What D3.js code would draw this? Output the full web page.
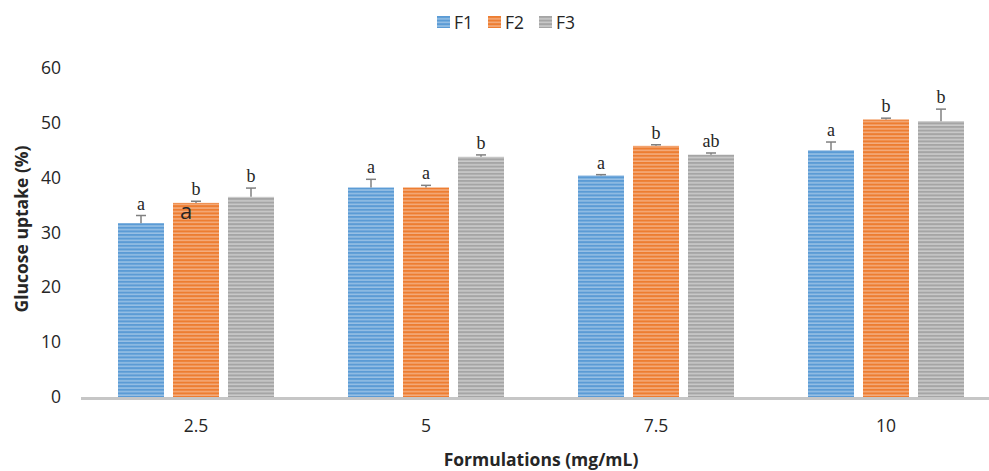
<!DOCTYPE html>
<html>
<head>
<meta charset="utf-8">
<script src="https://cdn.jsdelivr.net/npm/d3@7"></script>
<style>
  body { margin: 0; background: #fff; }
  svg { display: block; }
</style>
</head>
<body>
<div id="chart"></div>
<script>
"use strict";

// Chart values
var categories = ["2.5", "5", "7.5", "10"];
var seriesNames = ["F1", "F2", "F3"];
var f1Values = [31.7, 38.2, 40.4, 45.0];
var f2Values = [35.4, 38.2, 45.8, 50.6];
var f3Values = [36.5, 43.8, 44.2, 50.3];
var f1Errors = [1.4, 1.5, 0.15, 1.5];
var f2Errors = [0.3, 0.4, 0.2, 0.25];
var f3Errors = [1.6, 0.35, 0.3, 2.2];
var f1Letters = ["a", "a", "a", "a"];
var f2Letters = ["b", "a", "b", "b"];
var f3Letters = ["b", "b", "ab", "b"];
var yTicks = [0, 10, 20, 30, 40, 50, 60];

var colors = ["#5b9bd5", "#ed7d31", "#a5a5a5"];
var lightColors = ["#a9cbea", "#f6bb94", "#d6d6d6"];

var width = 989, height = 471;
var sans = "Open Sans, Liberation Sans, sans-serif";

var svg = d3.select("#chart")
  .append("svg")
  .attr("width", width)
  .attr("height", height);

// striped fills
var defs = svg.append("defs");
colors.forEach(function (c, i) {
  var p = defs.append("pattern")
    .attr("id", "stripe" + i)
    .attr("patternUnits", "userSpaceOnUse")
    .attr("width", 8)
    .attr("height", 3.6);
  p.append("rect").attr("width", 8).attr("height", 3.6).attr("fill", c);
  p.append("rect").attr("y", 2.2).attr("width", 8).attr("height", 1.2).attr("fill", lightColors[i]);
});

// scales
var x = d3.scaleBand()
  .domain(categories)
  .range([81, 1001])
  .paddingInner(0)
  .paddingOuter(0);

var barW = 46, barStep = 55;

var y = d3.scaleLinear()
  .domain([0, 60])
  .range([397, 68]);

// y tick labels
svg.append("g")
  .selectAll("text")
  .data(yTicks)
  .enter()
  .append("text")
  .attr("x", 61)
  .attr("y", function (d) { return y(d); })
  .attr("dy", "0.35em")
  .attr("text-anchor", "end")
  .attr("font-family", sans)
  .attr("font-size", 17.5)
  .attr("fill", "#262626")
  .text(function (d) { return d; });

// bars
var rows = [];
categories.forEach(function (cat, ci) {
  [f1Values, f2Values, f3Values].forEach(function (vals, si) {
    rows.push({
      cat: cat,
      s: si,
      v: vals[ci],
      e: [f1Errors, f2Errors, f3Errors][si][ci],
      l: [f1Letters, f2Letters, f3Letters][si][ci]
    });
  });
});

function barX(d) {
  return x(d.cat) + x.bandwidth() / 2 + (d.s - 1) * barStep - barW / 2;
}

svg.append("g")
  .selectAll("rect")
  .data(rows)
  .enter()
  .append("rect")
  .attr("x", barX)
  .attr("y", function (d) { return y(d.v); })
  .attr("width", barW)
  .attr("height", function (d) { return y(0) - y(d.v); })
  .attr("fill", function (d) { return "url(#stripe" + d.s + ")"; });

// error bars (upper only)
var err = svg.append("g").attr("stroke", "#808080").attr("stroke-width", 1.5);
err.selectAll("line.v")
  .data(rows)
  .enter()
  .append("line")
  .attr("x1", function (d) { return barX(d) + barW / 2; })
  .attr("x2", function (d) { return barX(d) + barW / 2; })
  .attr("y1", function (d) { return y(d.v); })
  .attr("y2", function (d) { return y(d.v + d.e); });
err.selectAll("line.c")
  .data(rows)
  .enter()
  .append("line")
  .attr("x1", function (d) { return barX(d) + barW / 2 - 5; })
  .attr("x2", function (d) { return barX(d) + barW / 2 + 5; })
  .attr("y1", function (d) { return y(d.v + d.e); })
  .attr("y2", function (d) { return y(d.v + d.e); });

// significance letters
svg.append("g")
  .selectAll("text")
  .data(rows)
  .enter()
  .append("text")
  .attr("x", function (d) { return barX(d) + barW / 2; })
  .attr("y", function (d) { return y(d.v + d.e) - 6; })
  .attr("text-anchor", "middle")
  .attr("font-family", "Liberation Serif, Times New Roman, serif")
  .attr("font-size", 18)
  .attr("fill", "#262626")
  .text(function (d) { return d.l; });

// stray label inside the first orange bar
svg.append("text")
  .attr("x", x("2.5") + x.bandwidth() / 2 - 10)
  .attr("y", 219)
  .attr("text-anchor", "middle")
  .attr("font-family", sans)
  .attr("font-size", 22)
  .attr("fill", "#262626")
  .text("a");

// x axis line
svg.append("line")
  .attr("x1", 81)
  .attr("x2", 1001)
  .attr("y1", y(0) + 1.5)
  .attr("y2", y(0) + 1.5)
  .attr("stroke", "#c6c6c6")
  .attr("stroke-width", 3);

// x tick labels
svg.append("g")
  .selectAll("text")
  .data(categories)
  .enter()
  .append("text")
  .attr("x", function (d) { return x(d) + x.bandwidth() / 2; })
  .attr("y", 432)
  .attr("text-anchor", "middle")
  .attr("font-family", sans)
  .attr("font-size", 17.5)
  .attr("fill", "#262626")
  .text(function (d) { return d; });

// axis titles
svg.append("text")
  .attr("x", 541)
  .attr("y", 466)
  .attr("text-anchor", "middle")
  .attr("font-family", sans)
  .attr("font-weight", "bold")
  .attr("font-size", 17.5)
  .attr("fill", "#262626")
  .text("Formulations (mg/mL)");

svg.append("text")
  .attr("transform", "translate(28,229) rotate(-90)")
  .attr("text-anchor", "middle")
  .attr("font-family", sans)
  .attr("font-weight", "bold")
  .attr("font-size", 17.5)
  .attr("fill", "#262626")
  .text("Glucose uptake (%)");

// legend
var legendX = [437, 488, 539];
var legend = svg.append("g")
  .selectAll("g")
  .data(seriesNames)
  .enter()
  .append("g")
  .attr("transform", function (d, i) { return "translate(" + legendX[i] + ",16)"; });
legend.append("rect")
  .attr("width", 13)
  .attr("height", 12)
  .attr("fill", function (d, i) { return "url(#stripe" + i + ")"; });
legend.append("text")
  .attr("x", 17)
  .attr("y", 12.5)
  .attr("font-family", sans)
  .attr("font-size", 17.5)
  .attr("fill", "#262626")
  .text(function (d) { return d; });
</script>
</body>
</html>
